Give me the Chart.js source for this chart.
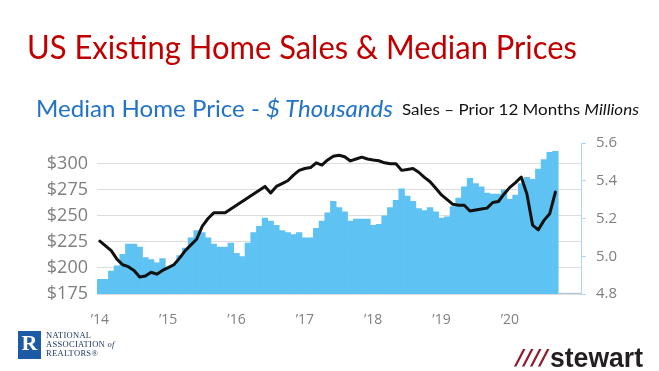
<!DOCTYPE html>
<html><head><meta charset="utf-8">
<script src="https://cdn.jsdelivr.net/npm/chart.js@4.4.1/dist/chart.umd.min.js"></script>
<style>
html,body{margin:0;padding:0;background:#fff;}
#wrap{position:relative;width:659px;height:371px;overflow:hidden;font-family:'Open Sans',sans-serif;}
#c{position:absolute;left:0;top:0;}
.t{position:absolute;white-space:nowrap;transform-origin:0 0;line-height:1;}
</style></head><body>
<div id="wrap">
<canvas id="c" width="659" height="371"></canvas>
<div class="t fit" data-w="550" style="left:27px;top:31px;font-size:32px;color:#c00000;font-family:Lato,sans-serif;">US Existing Home Sales &amp; Median Prices</div>
<div class="t fit" data-w="357" style="left:36px;top:96px;font-size:24px;color:#2272c8;font-family:Lato,sans-serif;">Median Home Price - <i>$ Thousands</i></div>
<div class="t fit" data-w="237" style="left:402px;top:102px;font-size:15.5px;color:#111;font-family:Lato,sans-serif;">Sales – Prior 12 Months <i>Millions</i></div>
<div style="position:absolute;left:18px;top:331px;width:23px;height:28px;background:#1c5aa6;color:#fff;font:bold 22px 'Liberation Serif',serif;text-align:center;line-height:24px;">R</div>
<div class="t" style="left:46px;top:331px;font:8.5px/9px 'Liberation Serif',serif;color:#1f3864;letter-spacing:0.3px;">NATIONAL<br>ASSOCIATION <i>of</i><br>REALTORS®</div>
<div class="t fit" data-w="32" style="left:516px;top:345px;font:italic 900 22px 'DejaVu Sans',sans-serif;color:#8e1b2e;">////</div>
<div class="t fit" data-w="93" style="left:550px;top:343px;font:bold 27px 'Liberation Sans',sans-serif;color:#231f20;">stewart</div>
</div>
<script>
// ---- data ----
const yearTicks = ['’14','’15','’16','’17','’18','’19','’20'];
const firstYear = 2014;
const monthCount = 85; // Jan 2014 .. Jan 2021 on the axis
// Median existing-home price, $ thousands (monthly)
const price2014 = [189,189,197,202,213,223,223,220,210,208,205,209];
const price2015 = [200,203,212,219,229,236,234,229,223,220,220,224];
const price2016 = [214,211,224,234,240,248,245,241,236,234,232,234];
const price2017 = [229,229,238,245,253,264,258,254,245,247,247,247];
const price2018 = [241,242,250,258,265,276,269,264,257,255,258,254];
const price2019 = [248,249,259,267,278,286,281,278,272,271,271,275];
const price2020 = [266,270,281,287,285,295,304,311,312,176,176,176];
const price2021 = [176];
// Existing-home sales, prior 12 months, millions
const sales2014 = [5.08,5.055,5.03,4.985,4.955,4.945,4.925,4.89,4.895,4.915,4.905,4.925];
const sales2015 = [4.94,4.955,4.99,5.03,5.06,5.09,5.16,5.2,5.23,5.23,5.23,5.25];
const sales2016 = [5.27,5.29,5.31,5.33,5.35,5.37,5.335,5.37,5.385,5.40,5.43,5.455];
const sales2017 = [5.465,5.47,5.495,5.483,5.51,5.53,5.535,5.527,5.505,5.515,5.525,5.515];
const sales2018 = [5.51,5.506,5.495,5.49,5.49,5.455,5.46,5.465,5.445,5.418,5.395,5.36];
const sales2019 = [5.325,5.30,5.275,5.27,5.27,5.24,5.245,5.25,5.255,5.285,5.29,5.33];
const sales2020 = [5.365,5.39,5.42,5.33,5.165,5.14,5.19,5.225,5.34,null,null,null];
const sales2021 = [null];

const priceData = [].concat(price2014,price2015,price2016,price2017,price2018,price2019,price2020,price2021);
const salesData = [].concat(sales2014,sales2015,sales2016,sales2017,sales2018,sales2019,sales2020,sales2021);
const categories = [];
for (let i = 0; i < monthCount; i++) {
  const y = firstYear + Math.floor(i / 12), m = (i % 12) + 1;
  categories.push(y + '-' + String(m).padStart(2, '0'));
}

// ---- layout ----
const AREA = {left: 97, right: 581, top: 143, bottom: 294, W: 659, H: 371};

new Chart(document.getElementById('c'), {
  data: {
    labels: categories,
    datasets: [
      {
        type: 'line', data: salesData, yAxisID: 'y2',
        borderColor: '#111111', borderWidth: 3, pointRadius: 0, tension: 0,
        borderJoinStyle: 'round', borderCapStyle: 'round', spanGaps: false
      },
      {
        type: 'bar', data: priceData, yAxisID: 'y',
        backgroundColor: ctx => ctx.dataIndex > 80 ? '#b7c9d6' : '#5ec3f3',
        borderWidth: 0, barPercentage: 1.0, categoryPercentage: 1.0
      }
    ]
  },
  options: {
    responsive: false, animation: false,
    layout: {padding: {top: AREA.top, left: 0, right: 0, bottom: 0}},
    plugins: {legend: {display: false}, tooltip: {enabled: false}},
    scales: {
      x: {
        type: 'category', offset: true,
        grid: {display: false}, border: {display: false},
        ticks: {
          autoSkip: false, maxRotation: 0, minRotation: 0, padding: 10,
          color: '#7f7f7f', font: {family: "'Open Sans'", size: 14},
          callback: (v, i) => (i % 12 === 0 && yearTicks[i / 12]) ? yearTicks[i / 12] : ''
        },
        afterFit: s => { s.height = AREA.H - AREA.bottom; }
      },
      y: {
        position: 'left', min: 175, max: 320,
        grid: {color: '#dcdcdc', lineWidth: 1, drawTicks: false},
        border: {display: false},
        ticks: {stepSize: 25, padding: 9, color: '#7f7f7f', font: {family: "'Open Sans'", size: 18},
          callback: v => '$' + v},
        afterBuildTicks: s => { s.ticks = s.ticks.filter(t => t.value % 25 === 0 && t.value <= 300); },
        afterFit: s => { s.width = AREA.left; }
      },
      y2: {
        position: 'right', min: 4.8, max: 5.6,
        grid: {drawOnChartArea: false, color: '#b4d3ec', tickLength: 5},
        border: {display: true, color: '#b4d3ec', width: 1},
        ticks: {stepSize: 0.2, padding: 10, color: '#7f7f7f', font: {family: "'Open Sans'", size: 15},
          callback: v => Number(v).toFixed(1)},
        afterFit: s => { s.width = AREA.W - AREA.right; }
      }
    }
  }
});

function fitTexts(){
  document.querySelectorAll('.fit').forEach(el => {
    el.style.transform = 'none';
    const w = el.getBoundingClientRect().width;
    const target = parseFloat(el.dataset.w);
    if (w > 0) el.style.transform = 'scaleX(' + (target / w) + ')';
  });
}
fitTexts();
if (document.fonts && document.fonts.ready) document.fonts.ready.then(fitTexts);
window.addEventListener('load', fitTexts);
</script>
</body></html>
